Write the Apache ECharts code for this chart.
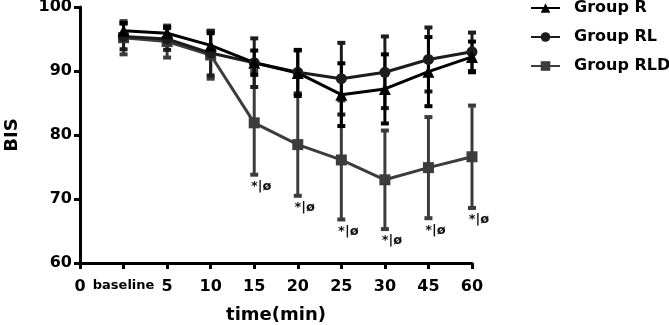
<!DOCTYPE html>
<html>
<head>
<meta charset="utf-8">
<script src="https://cdn.jsdelivr.net/npm/echarts@6/dist/echarts.min.js"></script>
<style>
  html, body { margin: 0; padding: 0; background: #fff; }
  #bis-chart { width: 669px; height: 325px; }
</style>
</head>
<body>
<div id="bis-chart"></div>
<script>
// time points (first one is the bare origin)
const times = ['0', 'baseline', '5', '10', '15', '20', '25', '30', '45', '60'];
// values start at "baseline"
const groupR = [96.3, 95.9, 94.0, 91.3, 89.7, 86.3, 87.2, 89.9, 92.2];
const groupRSd = [1.2, 1.0, 1.9, 1.9, 3.6, 4.9, 5.4, 5.4, 2.4];
const groupRL = [95.4, 95.0, 92.8, 91.3, 89.8, 88.8, 89.8, 91.8, 93.0];
const groupRLSd = [2.0, 1.7, 3.5, 3.8, 3.4, 5.6, 5.6, 5.0, 3.0];
const groupRLD = [95.2, 94.6, 92.5, 81.9, 78.5, 76.1, 73.0, 74.9, 76.6];
const groupRLDSd = [2.6, 2.5, 3.7, 8.1, 8.0, 9.3, 7.7, 7.9, 8.0];
const rldMarks = ['', '', '', '*|ø', '*|ø', '*|ø', '*|ø', '*|ø', '*|ø'];
const yTicks = [60, 70, 80, 90, 100];

const FONT = 'DejaVu Sans';
const chart = echarts.init(document.getElementById('bis-chart'));

const lineSeries = (name, color, symbol, vals) => ({
  name,
  type: 'line',
  data: vals.map((v, i) => [i + 1, v]),
  symbol,
  symbolSize: symbol === 'triangle' ? 12 : 11,
  lineStyle: { color, width: 3 },
  itemStyle: { color },
  z: 3,
});

const errorBars = (color, means, sds, marks) => ({
  type: 'custom',
  data: means.map((m, i) => [i + 1, m - sds[i], m + sds[i]]),
  encode: { x: 0, y: [1, 2] },
  z: 2,
  renderItem: (params, api) => {
    const lo = api.coord([api.value(0), api.value(1)]);
    const hi = api.coord([api.value(0), api.value(2)]);
    const hw = 4;
    const style = { stroke: color, lineWidth: 3 };
    const children = [
      { type: 'line', shape: { x1: hi[0], y1: hi[1], x2: lo[0], y2: lo[1] }, style },
      { type: 'line', shape: { x1: hi[0] - hw, y1: hi[1], x2: hi[0] + hw, y2: hi[1] }, style: { stroke: color, lineWidth: 4 } },
      { type: 'line', shape: { x1: lo[0] - hw, y1: lo[1], x2: lo[0] + hw, y2: lo[1] }, style: { stroke: color, lineWidth: 4 } },
    ];
    const mark = marks ? marks[params.dataIndex] : '';
    if (mark) {
      children.push({
        type: 'text',
        style: {
          text: mark, x: lo[0] + 7, y: lo[1] + 12,
          align: 'center', verticalAlign: 'middle',
          fill: '#111', font: 'bold 13px "' + FONT + '"',
        },
      });
    }
    return { type: 'group', children };
  },
});

const axisCommon = {
  axisLine: { show: true, lineStyle: { color: '#000', width: 3 } },
  axisTick: { show: true, length: 6, lineStyle: { color: '#000', width: 3 } },
  splitLine: { show: false },
};

chart.setOption({
  animation: false,
  textStyle: { fontFamily: FONT },
  grid: { left: 80, right: 197, top: 7, bottom: 62, containLabel: false, outerBoundsMode: 'none' },
  legend: {
    orient: 'vertical',
    left: 530,
    top: 0,
    padding: 0,
    itemWidth: 29,
    itemHeight: 12,
    itemGap: 13,
    data: ['Group R', 'Group RL', 'Group RLD'],
    textStyle: { fontFamily: FONT, fontWeight: 'bold', fontSize: 16, color: '#000', lineHeight: 16, padding: [0, 0, 0, 9] },
  },
  xAxis: {
    type: 'category',
    data: times.map((t) => (t === 'baseline' ? { value: t, textStyle: { fontSize: 13 } } : t)),
    boundaryGap: false,
    name: 'time(min)',
    nameLocation: 'middle',
    nameGap: 43,
    nameTextStyle: { fontFamily: FONT, fontWeight: 'bold', fontSize: 18, color: '#000' },
    ...axisCommon,
    axisTick: { ...axisCommon.axisTick, interval: 0 },
    axisLabel: { interval: 0, margin: 16, fontFamily: FONT, fontWeight: 'bold', fontSize: 16, color: '#000' },
  },
  yAxis: {
    type: 'value',
    min: yTicks[0],
    max: yTicks[yTicks.length - 1],
    interval: 10,
    name: 'BIS',
    nameLocation: 'middle',
    nameGap: 59,
    nameTextStyle: { fontFamily: FONT, fontWeight: 'bold', fontSize: 18, color: '#000' },
    ...axisCommon,
    axisLabel: { margin: 8, fontFamily: FONT, fontWeight: 'bold', fontSize: 16, color: '#000' },
  },
  series: [
    errorBars('#3c3c3c', groupRLD, groupRLDSd, rldMarks),
    errorBars('#1c1c1c', groupRL, groupRLSd),
    errorBars('#000000', groupR, groupRSd),
    lineSeries('Group RLD', '#3c3c3c', 'rect', groupRLD),
    lineSeries('Group RL', '#1c1c1c', 'circle', groupRL),
    lineSeries('Group R', '#000000', 'triangle', groupR),
  ],
});
</script>
</body>
</html>
